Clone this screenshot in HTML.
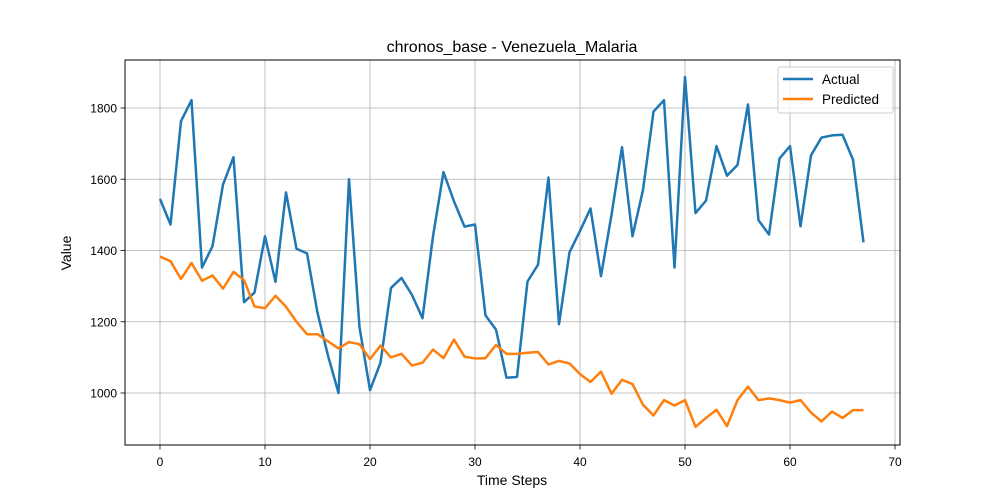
<!DOCTYPE html>
<html><head><meta charset="utf-8"><style>
body{margin:0;background:#fff;}
svg{display:block;font-family:"Liberation Sans","DejaVu Sans",sans-serif;}
</style></head><body>
<svg id="chart" width="1000" height="500">
<rect width="1000" height="500" fill="#fff"/>
<g id="grid"></g>
<g id="series"></g>
<rect x="125" y="60" width="775" height="385" fill="none" stroke="#000" stroke-width="1"/>
<g id="axes"></g>
<text x="512" y="52" text-anchor="middle" font-size="16">chronos_base - Venezuela_Malaria</text>
<text x="512" y="485" text-anchor="middle" font-size="14">Time Steps</text>
<text x="71" y="253" text-anchor="middle" font-size="14" transform="rotate(-90 71 253)">Value</text>
<g>
<rect x="778" y="67" width="115" height="46" fill="#fff" fill-opacity="0.8" stroke="#ccc" rx="2"/>
<line x1="783" y1="79" x2="813" y2="79" stroke="#1f77b4" stroke-width="2.5"/>
<text x="822" y="84" font-size="13.5">Actual</text>
<line x1="783" y1="99" x2="813" y2="99" stroke="#ff7f0e" stroke-width="2.5"/>
<text x="822" y="104" font-size="13.5">Predicted</text>
</g>
</svg>
<script>
const actual=[1545,1473,1763,1822,1352,1412,1585,1662,1255,1282,1440,1312,1563,1405,1392,1225,1105,1000,1600,1185,1008,1085,1295,1323,1275,1210,1440,1620,1538,1467,1473,1218,1178,1043,1045,1313,1360,1605,1193,1395,1455,1518,1328,1500,1690,1440,1570,1790,1822,1352,1887,1505,1540,1693,1610,1640,1810,1485,1445,1658,1693,1468,1667,1717,1723,1725,1655,1423];
const predicted=[1383,1370,1320,1365,1315,1330,1293,1340,1317,1243,1238,1273,1242,1200,1165,1165,1145,1125,1143,1137,1095,1133,1100,1110,1077,1085,1122,1098,1150,1102,1097,1098,1135,1110,1110,1113,1115,1080,1090,1083,1053,1031,1060,998,1037,1025,967,937,980,965,980,905,930,953,907,980,1018,980,985,980,973,980,945,920,948,930,952,952];
const xTicks=[0,10,20,30,40,50,60,70];
const yTicks=[1000,1200,1400,1600,1800];
const NS="http://www.w3.org/2000/svg";
const X=v=>160+v*10.5;
const Y=v=>108+(1800-v)*0.35625;
const grid=document.getElementById('grid'),axes=document.getElementById('axes'),series=document.getElementById('series');
function mk(tag,attrs,parent,txt){const e=document.createElementNS(NS,tag);for(const k in attrs)e.setAttribute(k,attrs[k]);if(txt!==undefined)e.textContent=txt;parent.appendChild(e);return e;}
xTicks.forEach(t=>{
  const g=mk('line',{x1:X(t),x2:X(t),y1:60,y2:445,stroke:'#b0b0b0','stroke-width':0.8},grid);
  
  
  const tk=mk('line',{x1:X(t),x2:X(t),y1:445,y2:449.5,stroke:'#000','stroke-width':0.8},axes);
  
  
  const l=mk('text',{x:X(t),y:466,'text-anchor':'middle','font-size':12},axes,String(t));
  
  
});
yTicks.forEach(t=>{
  const g=mk('line',{x1:125,x2:900,y1:Y(t),y2:Y(t),stroke:'#b0b0b0','stroke-width':0.8},grid);
  
  
  const tk=mk('line',{x1:120.5,x2:125,y1:Y(t),y2:Y(t),stroke:'#000','stroke-width':0.8},axes);
  
  
  const l=mk('text',{x:117,y:Y(t)+4.5,'text-anchor':'end','font-size':12},axes,String(t));
  
  
});
function line(data,color,name){
  const p=mk('polyline',{points:data.map((v,i)=>X(i)+','+Y(v)).join(' '),fill:'none',stroke:color,'stroke-width':2.5,'stroke-linejoin':'round'},series);
  
  
}
line(actual,'#1f77b4','actual-line');
line(predicted,'#ff7f0e','predicted-line');
</script>
</body></html>
